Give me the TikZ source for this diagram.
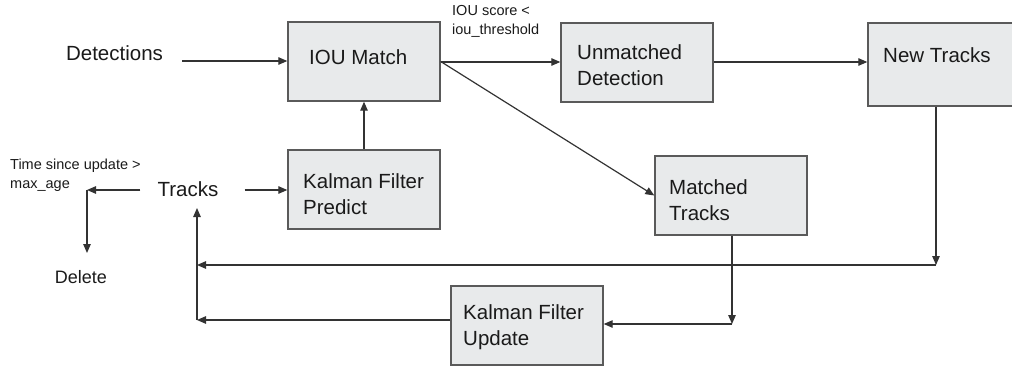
\documentclass[tikz,border=0pt]{standalone}
\usepackage{fontspec}
\setmainfont{Liberation Sans}
\usetikzlibrary{arrows.meta}
\definecolor{boxfill}{HTML}{E8EAEB}
\definecolor{boxline}{HTML}{5A5A5A}
\definecolor{arrline}{HTML}{333333}
\definecolor{txt}{HTML}{1A1A1A}
\begin{document}
\begin{tikzpicture}[x=1pt,y=-1pt,
  box/.style={draw=boxline, line width=1.4pt, fill=boxfill, minimum width=152pt, minimum height=79pt, inner sep=0pt},
  big/.style={font=\fontsize{20.5}{26}\selectfont, text=txt, inner sep=0pt, align=left},
  small/.style={font=\fontsize{14.5}{19}\selectfont, text=txt, inner sep=0pt, align=left},
  arr/.style={draw=arrline, line width=1.2pt, -{Triangle[length=9pt,width=7.5pt]}},
  ln/.style={draw=arrline, line width=1.2pt}]
\useasboundingbox (0,0) rectangle (1012,367);

% boxes
\node[box] (iou) at (364,61.5) {};
\node[box] (unm) at (637,62.5) {};
\node[box, minimum height=83pt] (newt) at (944,64.5) {};
\node[box] (kfp) at (364,189.5) {};
\node[box] (mt) at (731,195.5) {};
\node[box] (kfu) at (527,325.5) {};

% box texts
\node[big, anchor=west] (iouT) at (309,57) {IOU Match};
\node[big, anchor=west] (unmT) at (577,65) {Unmatched\\Detection};
\node[big, anchor=west] (newtT) at (883,55) {New Tracks};
\node[big, anchor=west] (kfpT) at (303,194) {Kalman Filter\\Predict};
\node[big, anchor=west] (mtT) at (669,200.5) {Matched\\Tracks};
\node[big, anchor=west] (kfuT) at (463,327.5) {Kalman Filter\\Update};

% free texts
\node[big] (det) at (114.5,53) {Detections};
\node[big] (trk) at (188,189.5) {Tracks};
\node[font=\fontsize{18}{22}\selectfont, text=txt, inner sep=0pt] (del) at (81,277) {Delete};
\node[small, anchor=west] (tsu) at (10,175.5) {Time since update >\\max\_age};
\node[small, anchor=west] (ious) at (452,21.5) {IOU score <\\iou\_threshold};

% helper coordinates
\coordinate (dcorner) at (87,190);
\coordinate (delTop) at (87,253);
\coordinate (nCorner) at (936,265);
\coordinate (mCorner) at (732,324);
\coordinate (vTop) at (197,208);
\coordinate (vMid) at (197,265);
\coordinate (vBot) at (197,320);

% connectors
\draw[arr] ([xshift=19pt]det.east |- 0,61) -- (iou.west |- 0,61);
\draw[arr] (kfp.north) -- (iou.south);
\draw[arr] (iou.east |- 0,62) -- (unm.west |- 0,62);
\draw[arr] (iou.east) -- (mt.west);
\draw[arr] (unm.east |- 0,62) -- (newt.west |- 0,62);
\draw[arr] (nCorner |- newt.south) -- (nCorner);
\draw[arr] (nCorner) -- (vMid);
\draw[arr] (mCorner |- mt.south) -- (mCorner);
\draw[arr] (mCorner) -- (kfu.east |- mCorner);
\draw[arr] (kfu.west |- vBot) -- (vBot);
\draw[arr] (vBot) -- (vTop);
\draw[arr] ([xshift=26pt]trk.east |- dcorner) -- (kfp.west |- dcorner);
\draw[arr] ([xshift=-17pt]trk.west |- dcorner) -- (dcorner);
\draw[arr] (dcorner) -- (delTop);
\end{tikzpicture}
\end{document}
